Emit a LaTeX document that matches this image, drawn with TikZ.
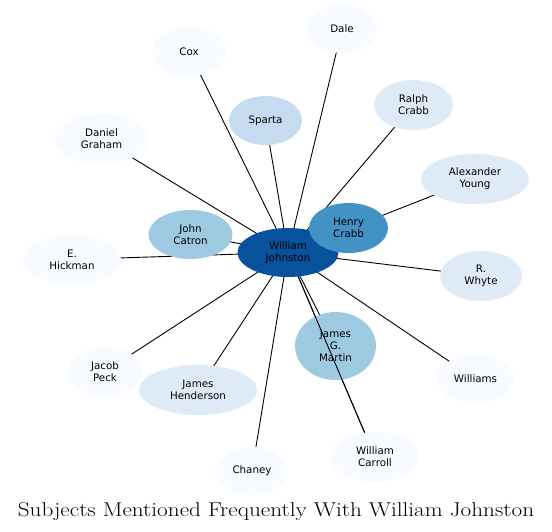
\documentclass[tikz,border=0pt]{standalone}
\usepackage{fontspec}
\newfontfamily\lblfont{DejaVu Sans}
\usetikzlibrary{shapes.geometric}
\pgfdeclarelayer{background}
\pgfdeclarelayer{foreground}
\pgfsetlayers{background,main,foreground}
\definecolor{bA}{HTML}{08519C}
\definecolor{bB}{HTML}{4292C6}
\definecolor{bC}{HTML}{9ECAE1}
\definecolor{bD}{HTML}{C6DBEF}
\definecolor{bE}{HTML}{DEEBF7}
\definecolor{bF}{HTML}{F7FBFF}
\tikzset{
  person/.style={ellipse, inner sep=0pt, align=center, text=black,
    font=\lblfont\fontsize{10.3}{12}\selectfont},
  link/.style={draw=black, line width=0.9pt},
}
\newcommand{\pnode}[7]{% name, x, y, rx, ry, colour, text
  \node[person, fill=#6, minimum width=#4*2pt, minimum height=#5*2pt] (#1) at (#2,#3) {#7};}
\begin{document}
\begin{tikzpicture}[x=1pt,y=-1pt]
\useasboundingbox (0,0) rectangle (552,531);
\pnode{wj}{288}{252.5}{50.5}{24.5}{bA}{William\\Johnston}
\pnode{hc}{348.5}{228}{39.5}{25}{bB}{Henry\\Crabb}
\pnode{jgm}{335.5}{346}{40.5}{34}{bC}{James\\G.\\Martin}
\pnode{jc}{190.5}{234.5}{42}{24.5}{bC}{John\\Catron}
\pnode{sp}{265.5}{120.5}{36.5}{24.5}{bD}{Sparta}
\pnode{rc}{413.5}{105}{39.5}{25}{bE}{Ralph\\Crabb}
\pnode{ay}{475}{179}{54}{25}{bE}{Alexander\\Young}
\pnode{jh}{198}{390}{59}{25}{bE}{James\\Henderson}
\pnode{rw}{481}{276}{41}{25}{bE}{R.\\Whyte}
\pnode{cox}{189}{51.5}{37}{24.5}{bF}{Cox}
\pnode{dale}{342}{29}{35}{24}{bF}{Dale}
\pnode{dg}{101.5}{139}{46.5}{25}{bF}{Daniel\\Graham}
\pnode{eh}{72}{259.5}{49}{24.5}{bF}{E.\\Hickman}
\pnode{jp}{105}{371.5}{37}{24.5}{bF}{Jacob\\Peck}
\pnode{ch}{252}{471}{36}{24}{bF}{Chaney}
\pnode{wc}{375}{457}{44}{25}{bF}{William\\Carroll}
\pnode{wi}{475.5}{379}{38.5}{24}{bF}{Williams}
\begin{pgfonlayer}{background}
\fill[white] (0,0) rectangle (552,531);
\foreach \n in {hc,jgm,jc,sp,rc,ay,jh,rw,cox,dale,dg,eh,jp,ch,wc,wi}
  \draw[link] (wj.center) -- (\n.center);
\end{pgfonlayer}
\begin{pgfonlayer}{foreground}
\draw[link] (wj) -- (wc);
\end{pgfonlayer}
\node[font=\fontsize{20}{24}\selectfont, anchor=base, xscale=1.16] (title) at (276,516) {Subjects Mentioned Frequently With William Johnston};
\end{tikzpicture}
\end{document}
